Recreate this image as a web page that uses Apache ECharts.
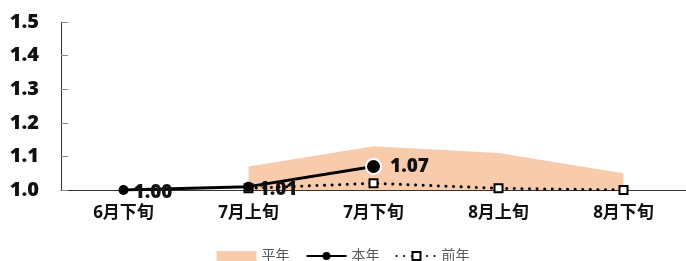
<!DOCTYPE html>
<html>
<head>
<meta charset="utf-8">
<script src="https://cdn.jsdelivr.net/npm/echarts@6/dist/echarts.min.js"></script>
<style>
  html, body { margin: 0; padding: 0; background: #fff; }
  #main { width: 686px; height: 261px; }
</style>
</head>
<body>
<div id="main"></div>
<script>
// 数据
var categories = ['6月下旬', '7月上旬', '7月下旬', '8月上旬', '8月下旬'];
var normalYear = [null, 1.07, 1.13, 1.11, 1.05];   // 平年
var thisYear = [1.00, 1.01, 1.07, null, null];      // 本年
var lastYear = [null, 1.005, 1.02, 1.005, 1.00];    // 前年
var yTicks = [1.0, 1.5, 0.1];

var font = "'Open Sans', 'Noto Sans CJK SC', sans-serif";

var chart = echarts.init(document.getElementById('main'));

// 本年 的最后一个点单独放大
var thisYearData = thisYear.map(function (v, i) {
    if (i == 2) {
        return {
            value: v,
            symbolSize: 15,
            itemStyle: { color: '#000', borderColor: '#fff', borderWidth: 2 },
            label: { offset: [5, 0] }
        };
    }
    return v;
});

var option = {
    animation: false,
    textStyle: { fontFamily: font },
    grid: { left: 61, right: 0, top: 22, bottom: 71 },
    legend: {
        bottom: -7,
        left: 'center',
        itemWidth: 40,
        itemHeight: 10,
        itemGap: 16,
        textStyle: { color: '#595959', fontSize: 14, fontFamily: font },
        data: [
            { name: '平年', icon: 'rect', itemStyle: { color: '#F8CBAD' } },
            { name: '本年' },
            { name: '前年' }
        ]
    },
    xAxis: {
        type: 'category',
        data: categories,
        boundaryGap: true,
        axisLine: { lineStyle: { color: '#333', width: 1 } },
        axisTick: { inside: true, length: 6, lineStyle: { color: '#333' } },
        axisLabel: { color: '#111', fontSize: 17, fontWeight: 'bold', margin: 15 }
    },
    yAxis: {
        type: 'value',
        min: yTicks[0],
        max: yTicks[1],
        interval: yTicks[2],
        splitLine: { show: false },
        axisLine: { show: true, lineStyle: { color: '#333', width: 1 } },
        axisTick: { show: true, inside: true, length: 7, lineStyle: { color: '#888' } },
        axisLabel: {
            color: '#111', fontSize: 20, fontWeight: 800, margin: 22,
            formatter: function (v) { return v.toFixed(1); }
        }
    },
    series: [
        {
            name: '平年',
            type: 'line',
            data: normalYear,
            showSymbol: false,
            symbol: 'none',
            lineStyle: { width: 0, color: '#F8CBAD' },
            itemStyle: { color: '#F8CBAD' },
            areaStyle: { color: '#F8CBAD', opacity: 1 },
            z: 1
        },
        {
            name: '前年',
            type: 'line',
            data: lastYear,
            symbol: 'rect',
            symbolSize: 8,
            lineStyle: { color: '#000', width: 3, type: [0.1, 7.5], cap: 'round' },
            itemStyle: { color: '#fff', borderColor: '#000', borderWidth: 2 },
            z: 2
        },
        {
            name: '本年',
            type: 'line',
            data: thisYearData,
            symbol: 'circle',
            symbolSize: 10,
            connectNulls: false,
            lineStyle: { color: '#000', width: 3 },
            itemStyle: { color: '#000' },
            label: {
                show: true,
                position: 'right',
                distance: 3,
                offset: [2, 3],
                color: '#111',
                fontSize: 19,
                fontWeight: 800,
                formatter: function (p) { return p.value.toFixed(2); }
            },
            z: 3
        }
    ]
};

chart.setOption(option);
</script>
</body>
</html>
